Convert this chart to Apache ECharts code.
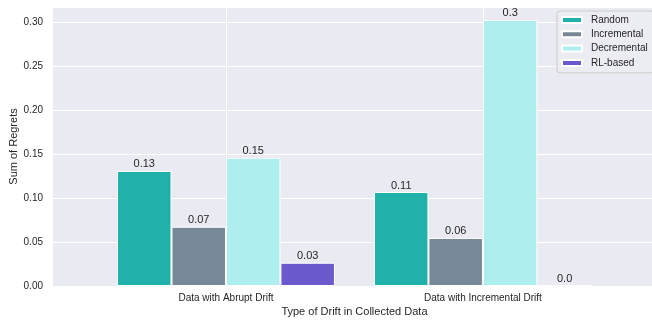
<!DOCTYPE html>
<html>
<head>
<meta charset="utf-8">
<script src="https://cdn.jsdelivr.net/npm/echarts@6/dist/echarts.min.js"></script>
<style>html,body{margin:0;padding:0;background:#fff;}#c{width:652px;height:320px;}</style>
</head>
<body>
<div id="c"></div>
<script>
const categories = ['Data with Abrupt Drift', 'Data with Incremental Drift'];
const seriesNames = ['Random', 'Incremental', 'Decremental', 'RL-based'];
const randomVals = [0.131, 0.107];
const incrementalVals = [0.0675, 0.0547];
const decrementalVals = [0.146, 0.303];
const rlVals = [0.0265, 0.001];
const randomLabels = ['0.13', '0.11'];
const incrementalLabels = ['0.07', '0.06'];
const decrementalLabels = ['0.15', '0.3'];
const rlLabels = ['0.03', '0.0'];
const yTicks = ['0.00', '0.05', '0.10', '0.15', '0.20', '0.25', '0.30'];
const colors = ['#20B2AA', '#778899', '#AFEEEE', '#6A5ACD'];

const FONT = "'Liberation Sans', Arial, sans-serif";
const TXT = '#262626';
const YMAX = 0.3177;

const allVals = [randomVals, incrementalVals, decrementalVals, rlVals];
const allLabels = [randomLabels, incrementalLabels, decrementalLabels, rlLabels];

const series = seriesNames.map((name, i) => ({
  name: name,
  type: 'bar',
  xAxisIndex: 1,
  yAxisIndex: 1,
  data: allVals[i],
  barGap: '0%',
  barCategoryGap: '15.2%',
  z: 2,
  itemStyle: { color: colors[i], borderColor: '#ffffff', borderWidth: 1 },
  label: {
    show: true,
    position: 'top',
    distance: 1,
    fontFamily: FONT,
    fontSize: 11,
    color: TXT,
    formatter: p => allLabels[i][p.dataIndex]
  }
}));

// vertical grid lines at the category ticks
series.push({
  name: '_vlines',
  type: 'line',
  xAxisIndex: 1,
  yAxisIndex: 1,
  data: categories.map(() => null),
  symbol: 'none',
  silent: true,
  z: 1,
  markLine: {
    silent: true,
    symbol: 'none',
    z: 1,
    animation: false,
    label: { show: false },
    lineStyle: { color: '#ffffff', width: 1, type: 'solid' },
    data: categories.map(c => ({ xAxis: c }))
  }
});

const chart = echarts.init(document.getElementById('c'), null, { renderer: 'canvas' });
chart.setOption({
  animation: false,
  backgroundColor: '#ffffff',
  textStyle: { fontFamily: FONT },
  grid: [
    { left: 53, right: -4, top: 7, bottom: 34, show: true, backgroundColor: '#EAEAF2', borderWidth: 0, containLabel: false, outerBoundsMode: 'none' },
    { left: 97.5, right: 40.6, top: 7, bottom: 34, containLabel: false, outerBoundsMode: 'none' }
  ],
  legend: {
    orient: 'vertical',
    left: 557,
    top: 11,
    padding: [3, 6, 4, 4],
    itemWidth: 20,
    itemHeight: 6,
    itemGap: 2.3,
    backgroundColor: 'rgba(236,236,243,0.85)',
    borderColor: '#cccccc',
    borderWidth: 1,
    borderRadius: 3,
    textStyle: { fontFamily: FONT, fontSize: 10, color: TXT, lineHeight: 12, padding: [0, 0, 0, 4] },
    data: seriesNames.map(n => ({ name: n, icon: 'rect' }))
  },
  xAxis: [
    { type: 'value', gridIndex: 0, min: 0, max: 1, show: false },
    {
      type: 'category', gridIndex: 1, data: categories,
      axisLine: { show: false }, axisTick: { show: false }, splitLine: { show: false },
      axisLabel: { fontFamily: FONT, fontSize: 10, color: TXT, margin: 7 },
      name: 'Type of Drift in Collected Data', nameLocation: 'middle', nameGap: 20, nameMoveOverlap: false,
      nameTextStyle: { fontFamily: FONT, fontSize: 11, color: TXT }
    }
  ],
  yAxis: [
    {
      type: 'value', gridIndex: 0, min: 0, max: YMAX, interval: 0.05,
      axisLine: { show: false }, axisTick: { show: false },
      splitLine: { show: true, lineStyle: { color: '#ffffff', width: 1 } },
      axisLabel: {
        fontFamily: FONT, fontSize: 10, color: TXT, margin: 10, showMaxLabel: false,
        formatter: v => { const k = Math.round(v / 0.05); return Math.abs(v - k * 0.05) < 1e-6 && k < yTicks.length ? yTicks[k] : ''; }
      },
      name: 'Sum of Regrets', nameLocation: 'middle', nameGap: 34, nameMoveOverlap: false,
      nameTextStyle: { fontFamily: FONT, fontSize: 11, color: TXT }
    },
    { type: 'value', gridIndex: 1, min: 0, max: YMAX, show: false }
  ],
  series: series
});
</script>
</body>
</html>
